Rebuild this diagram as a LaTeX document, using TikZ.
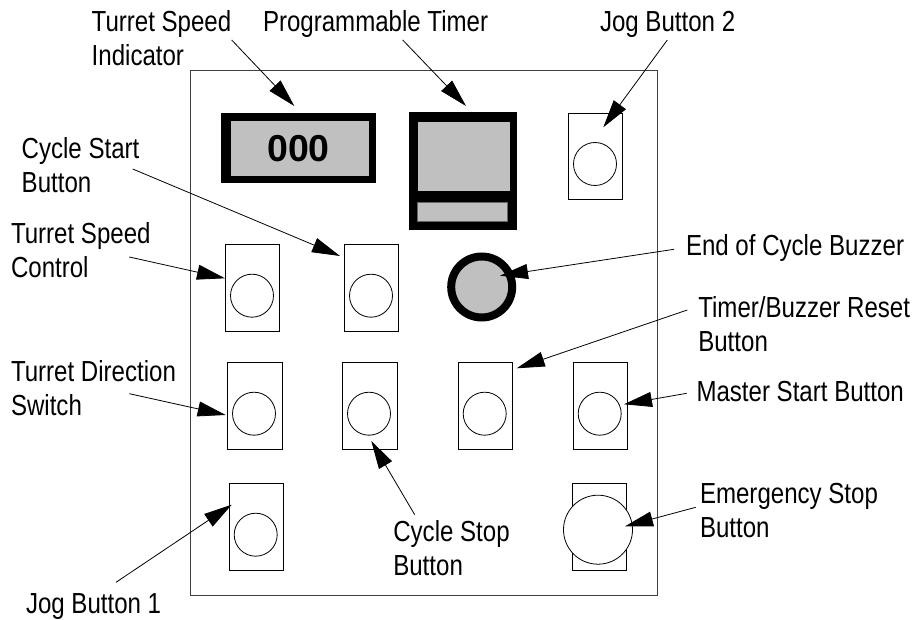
\documentclass[tikz,border=0pt]{standalone}
\usepackage{fontspec}
\setmainfont[FakeStretch=0.83]{Liberation Sans}
\newfontfamily\digitfont{Liberation Sans}
\usetikzlibrary{arrows.meta}
\definecolor{panelgrey}{HTML}{C0C0C0}
\tikzset{
  lab/.style={anchor=north west,inner sep=0pt,outer sep=0pt,align=left,yshift=28pt,
    font=\fontsize{29}{34}\selectfont},
  btnbox/.style={draw=black,line width=0.9pt,fill=white,inner sep=0pt,minimum width=54.4pt,minimum height=86.7pt},
  knob/.style={circle,draw=black,line width=0.8pt,fill=white,inner sep=0pt,minimum size=43pt},
  bigknob/.style={circle,draw=black,line width=0.8pt,fill=white,inner sep=0pt,minimum size=69pt},
  blackbox/.style={fill=black,inner sep=0pt},
  greybox/.style={fill=panelgrey,inner sep=0pt},
  lead/.style={draw=black,line width=0.8pt,-{Triangle[length=28pt,width=15pt]}},
}
\newcommand{\strt}{\rule{0pt}{28pt}}
\begin{document}
\begin{tikzpicture}[x=1pt,y=-1pt]
\useasboundingbox (0,0) rectangle (913,620);
\fill[white] (0,0) rectangle (913,620);
% panel
\node[draw=black!75,line width=1pt,inner sep=0pt,minimum width=467pt,minimum height=524pt] (panel) at (423.5,333) {};
% displays
\node[blackbox,minimum width=155pt,minimum height=69.7pt] (speedout) at (298.2,147.85) {};
\node[greybox,minimum width=138pt,minimum height=55pt] (speedin) at (300,148.5) {};
\node[anchor=base,inner sep=0pt,font=\digitfont\bfseries\fontsize{37.5}{40}\selectfont] (digits) at (298.5,161.7) {000};
\node[blackbox,minimum width=107.7pt,minimum height=118.3pt] (timerout) at (462.85,170.85) {};
\node[greybox,minimum width=92pt,minimum height=69pt] (timerin) at (464,156.5) {};
\node[greybox,draw=black!60,line width=0.8pt,minimum width=90.4pt,minimum height=19.4pt] (timerlow) at (462.5,212) {};
% buttons
\node[btnbox] (bjogtwo) at (595.6,156.5) {};
\node[knob] (kjogtwo) at (595,164) {};
\node[btnbox] (bspeed) at (252.7,288) {};
\node[knob] (kspeed) at (252,295.7) {};
\node[btnbox] (bcstart) at (371.6,288) {};
\node[knob] (kcstart) at (371,295.7) {};
\node[btnbox] (bdir) at (254.8,406) {};
\node[knob] (kdir) at (254,413.7) {};
\node[btnbox] (bcstop) at (370,406) {};
\node[knob] (kcstop) at (369,413.7) {};
\node[btnbox] (breset) at (485.2,406) {};
\node[knob] (kreset) at (484.7,413.7) {};
\node[btnbox] (bmaster) at (600.3,406) {};
\node[knob] (kmaster) at (599.7,413.7) {};
\node[btnbox] (bjogone) at (256.5,527.2) {};
\node[knob] (kjogone) at (255.7,534.7) {};
\node[btnbox] (bestop) at (599.3,527) {};
\node[bigknob] (kestop) at (598,529.7) {};
% buzzer
\node[circle,draw=black,line width=8pt,fill=panelgrey,inner sep=0pt,outer sep=0pt,minimum size=61pt] (buzzer) at (481.7,287) {};
% labels
\node[lab] (ltsi) at (91.7,31.7) {\strt Turret Speed\\Indicator};
\node[lab] (lpt) at (263,31.7) {\strt Programmable Timer};
\node[lab] (ljogtwo) at (600,31.7) {\strt Jog Button 2};
\node[lab] (lcstart) at (21.7,158.3) {\strt Cycle Start\\Button};
\node[lab] (lspeed) at (11,243.3) {\strt Turret Speed\\Control};
\node[lab] (ldir) at (11,381.7) {\strt Turret Direction\\Switch};
\node[lab] (ljogone) at (26,613.3) {\strt Jog Button 1};
\node[lab] (lcstop) at (393.3,541) {\strt Cycle Stop\\Button};
\node[lab] (lbuzzer) at (686,256) {\strt End of Cycle Buzzer};
\node[lab] (lreset) at (698.3,317.3) {\strt Timer/Buzzer Reset\\Button};
\node[lab] (lmaster) at (696.5,401.7) {\strt Master Start Button};
\node[lab] (lestop) at (700,503.3) {\strt Emergency Stop\\Button};
% connector ends
\coordinate (s1) at (231.7,40);   \coordinate (t1) at (294.3,106);
\coordinate (s2) at (402.7,40);   \coordinate (t2) at (466,106);
\coordinate (s3) at (667.3,40);   \coordinate (t3) at (603.3,127.3);
\coordinate (s4) at (132.7,169);  \coordinate (t4) at (340,256);
\coordinate (s5) at (129.3,257);  \coordinate (t5) at (225,278.3);
\coordinate (s6) at (129.3,393.7);\coordinate (t6) at (225.7,415);
\coordinate (s7) at (116,582.3);  \coordinate (t7) at (231.7,504.7);
\coordinate (s8) at (414.7,514.7);\coordinate (t8) at (371.3,441);
\coordinate (s9) at (687.3,310);  \coordinate (t9) at (516.7,368.3);
\coordinate (s10) at (674,249.3); \coordinate (t10) at (500,275.7);
\coordinate (s11) at (686.7,393.3);\coordinate (t11) at (624,404.3);
\coordinate (s12) at (695.7,507.3);\coordinate (t12) at (625,526.3);
\draw[lead] (s1) -- (t1);
\draw[lead] (s2) -- (t2);
\draw[lead] (s3) -- (t3);
\draw[lead] (s4) -- (t4);
\draw[lead] (s5) -- (t5);
\draw[lead] (s6) -- (t6);
\draw[lead] (s7) -- (t7);
\draw[lead] (s8) -- (t8);
\draw[lead] (s9) -- (t9);
\draw[lead] (s10) -- (t10);
\draw[lead] (s11) -- (t11);
\draw[lead] (s12) -- (t12);
\end{tikzpicture}
\end{document}
